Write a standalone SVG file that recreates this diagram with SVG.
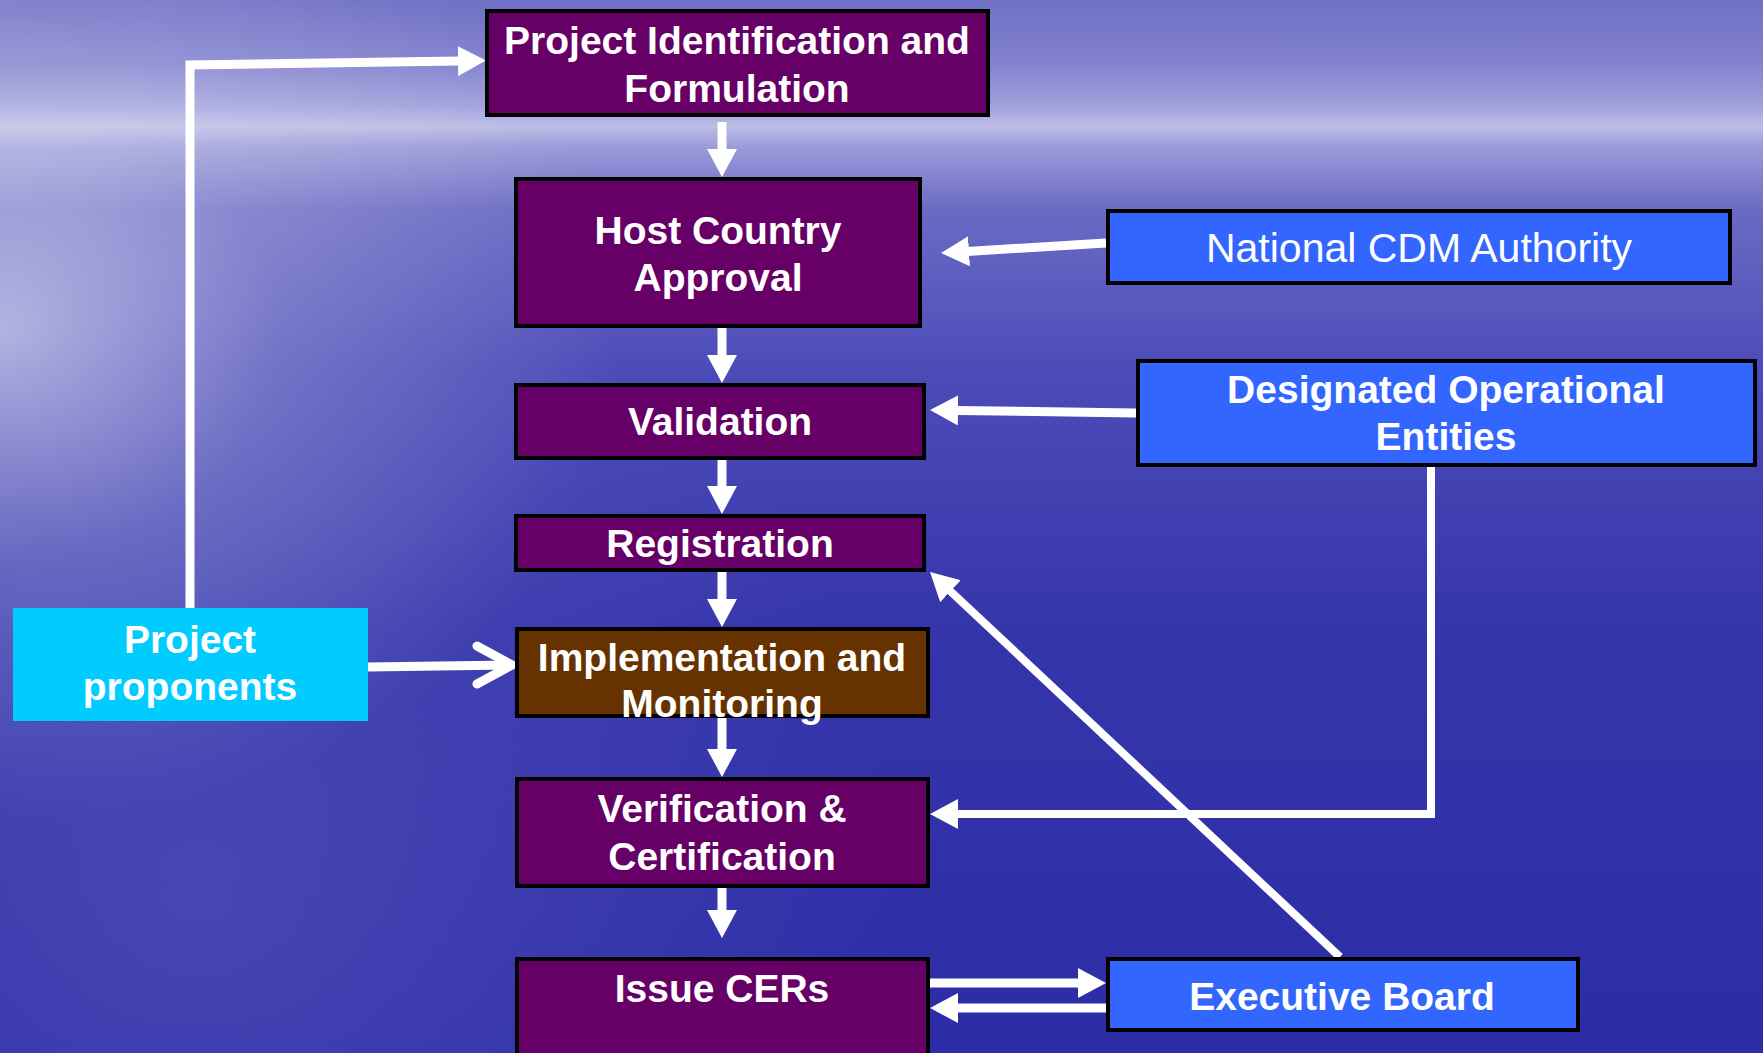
<svg xmlns="http://www.w3.org/2000/svg" width="1763" height="1053" viewBox="0 0 1763 1053">
<style>
.box{stroke:#000;stroke-width:4}
.purple{fill:#660066}
.brown{fill:#663300}
.blue{fill:#3366FF}
.cyan{fill:#00CCFF}
.t{font-family:"Liberation Sans",Arial,sans-serif;font-size:39px;font-weight:bold;fill:#fff;text-anchor:middle}
.tn{font-family:"Liberation Sans",Arial,sans-serif;font-size:41px;font-weight:normal;fill:#fff;text-anchor:middle}
.c{fill:none;stroke:#fff;stroke-width:9}
</style>
<defs>
<linearGradient id="sky" x1="0" y1="0" x2="0" y2="1">
<stop offset="0" stop-color="#7070c6"/>
<stop offset="0.06" stop-color="#8282ce"/>
<stop offset="0.1" stop-color="#a0a0dc"/>
<stop offset="0.12" stop-color="#bcbce6"/>
<stop offset="0.14" stop-color="#9a9ad8"/>
<stop offset="0.2" stop-color="#6a6ac4"/>
<stop offset="0.35" stop-color="#4c4cb8"/>
<stop offset="0.6" stop-color="#3535ab"/>
<stop offset="1" stop-color="#2c2ca6"/>
</linearGradient>
<radialGradient id="glow" cx="0" cy="330" r="620" gradientUnits="userSpaceOnUse" gradientTransform="translate(0,330) scale(1,0.8) translate(0,-330)">
<stop offset="0" stop-color="#ffffff" stop-opacity="0.55"/>
<stop offset="0.45" stop-color="#ffffff" stop-opacity="0.2"/>
<stop offset="1" stop-color="#ffffff" stop-opacity="0"/>
</radialGradient>
<radialGradient id="sea" cx="200" cy="900" r="700" gradientUnits="userSpaceOnUse">
<stop offset="0" stop-color="#7070cc" stop-opacity="0.35"/>
<stop offset="1" stop-color="#7070cc" stop-opacity="0"/>
</radialGradient>
<marker id="ah" viewBox="0 0 28 30" markerUnits="userSpaceOnUse" markerWidth="28" markerHeight="30" refX="2" refY="15" orient="auto">
<path d="M0,0 L28,15 L0,30 z" fill="#fff"/>
</marker>
</defs>

<g id="background">
<rect x="0" y="0" width="1763" height="1053" fill="url(#sky)"/>
<rect x="0" y="0" width="1763" height="1053" fill="url(#sea)"/>
<rect x="0" y="0" width="1763" height="1053" fill="url(#glow)"/>
</g>

<g id="connectors">
<polyline class="c" points="190,608 190,65 460,61" marker-end="url(#ah)"/>
<line class="c" x1="722" y1="122" x2="722" y2="151" marker-end="url(#ah)"/>
<line class="c" x1="722" y1="328" x2="722" y2="357" marker-end="url(#ah)"/>
<line class="c" x1="722" y1="460" x2="722" y2="488" marker-end="url(#ah)"/>
<line class="c" x1="722" y1="572" x2="722" y2="601" marker-end="url(#ah)"/>
<line class="c" x1="722" y1="718" x2="722" y2="751" marker-end="url(#ah)"/>
<line class="c" x1="722" y1="885" x2="722" y2="912" marker-end="url(#ah)"/>
<line class="c" x1="1106" y1="243" x2="967" y2="251.4" marker-end="url(#ah)"/>
<line class="c" x1="1136" y1="413" x2="956" y2="410.4" marker-end="url(#ah)"/>
<polyline class="c" style="stroke-width:8" points="1431,467 1431,814 956,814" marker-end="url(#ah)"/>
<line class="c" style="stroke-width:8" x1="1340" y1="957" x2="949" y2="589.8" marker-end="url(#ah)"/>
<line class="c" x1="928" y1="983" x2="1080" y2="983" marker-end="url(#ah)"/>
<line class="c" x1="1108" y1="1008" x2="956" y2="1008" marker-end="url(#ah)"/>
<line class="c" x1="368" y1="667" x2="510" y2="665"/>
<polyline class="c" stroke-linecap="round" stroke-linejoin="round" points="477,646 512,665 477,684"/>
</g>

<g id="project-identification">
<rect class="box purple" x="487" y="11" width="501" height="104"/>
<text class="t" x="737" y="54">Project Identification and</text>
<text class="t" x="737" y="102">Formulation</text>
</g>
<g id="host-country-approval">
<rect class="box purple" x="516" y="179" width="404" height="147"/>
<text class="t" x="718" y="244">Host Country</text>
<text class="t" x="718" y="291">Approval</text>
</g>
<g id="validation">
<rect class="box purple" x="516" y="385" width="408" height="73"/>
<text class="t" x="720" y="435">Validation</text>
</g>
<g id="registration">
<rect class="box purple" x="516" y="516" width="408" height="54"/>
<text class="t" x="720" y="557">Registration</text>
</g>
<g id="implementation-monitoring">
<rect class="box brown" x="517" y="629" width="411" height="87"/>
<text class="t" x="722" y="671">Implementation and</text>
<text class="t" x="722" y="717">Monitoring</text>
</g>
<g id="verification-certification">
<rect class="box purple" x="517" y="779" width="411" height="107"/>
<text class="t" x="722" y="822">Verification &amp;</text>
<text class="t" x="722" y="870">Certification</text>
</g>
<g id="issue-cers">
<rect class="box purple" x="517" y="959" width="411" height="110"/>
<text class="t" x="722" y="1002">Issue CERs</text>
</g>
<g id="national-cdm-authority">
<rect class="box blue" x="1108" y="211" width="622" height="72"/>
<text class="tn" x="1419" y="262">National CDM Authority</text>
</g>
<g id="designated-operational-entities">
<rect class="box blue" x="1138" y="361" width="617" height="104"/>
<text class="t" x="1446" y="403">Designated Operational</text>
<text class="t" x="1446" y="450">Entities</text>
</g>
<g id="executive-board">
<rect class="box blue" x="1108" y="959" width="470" height="71"/>
<text class="t" x="1342" y="1010">Executive Board</text>
</g>
<g id="project-proponents">
<rect class="cyan" x="13" y="608" width="355" height="113"/>
<text class="t" x="190" y="653">Project</text>
<text class="t" x="190" y="700">proponents</text>
</g>
</svg>
